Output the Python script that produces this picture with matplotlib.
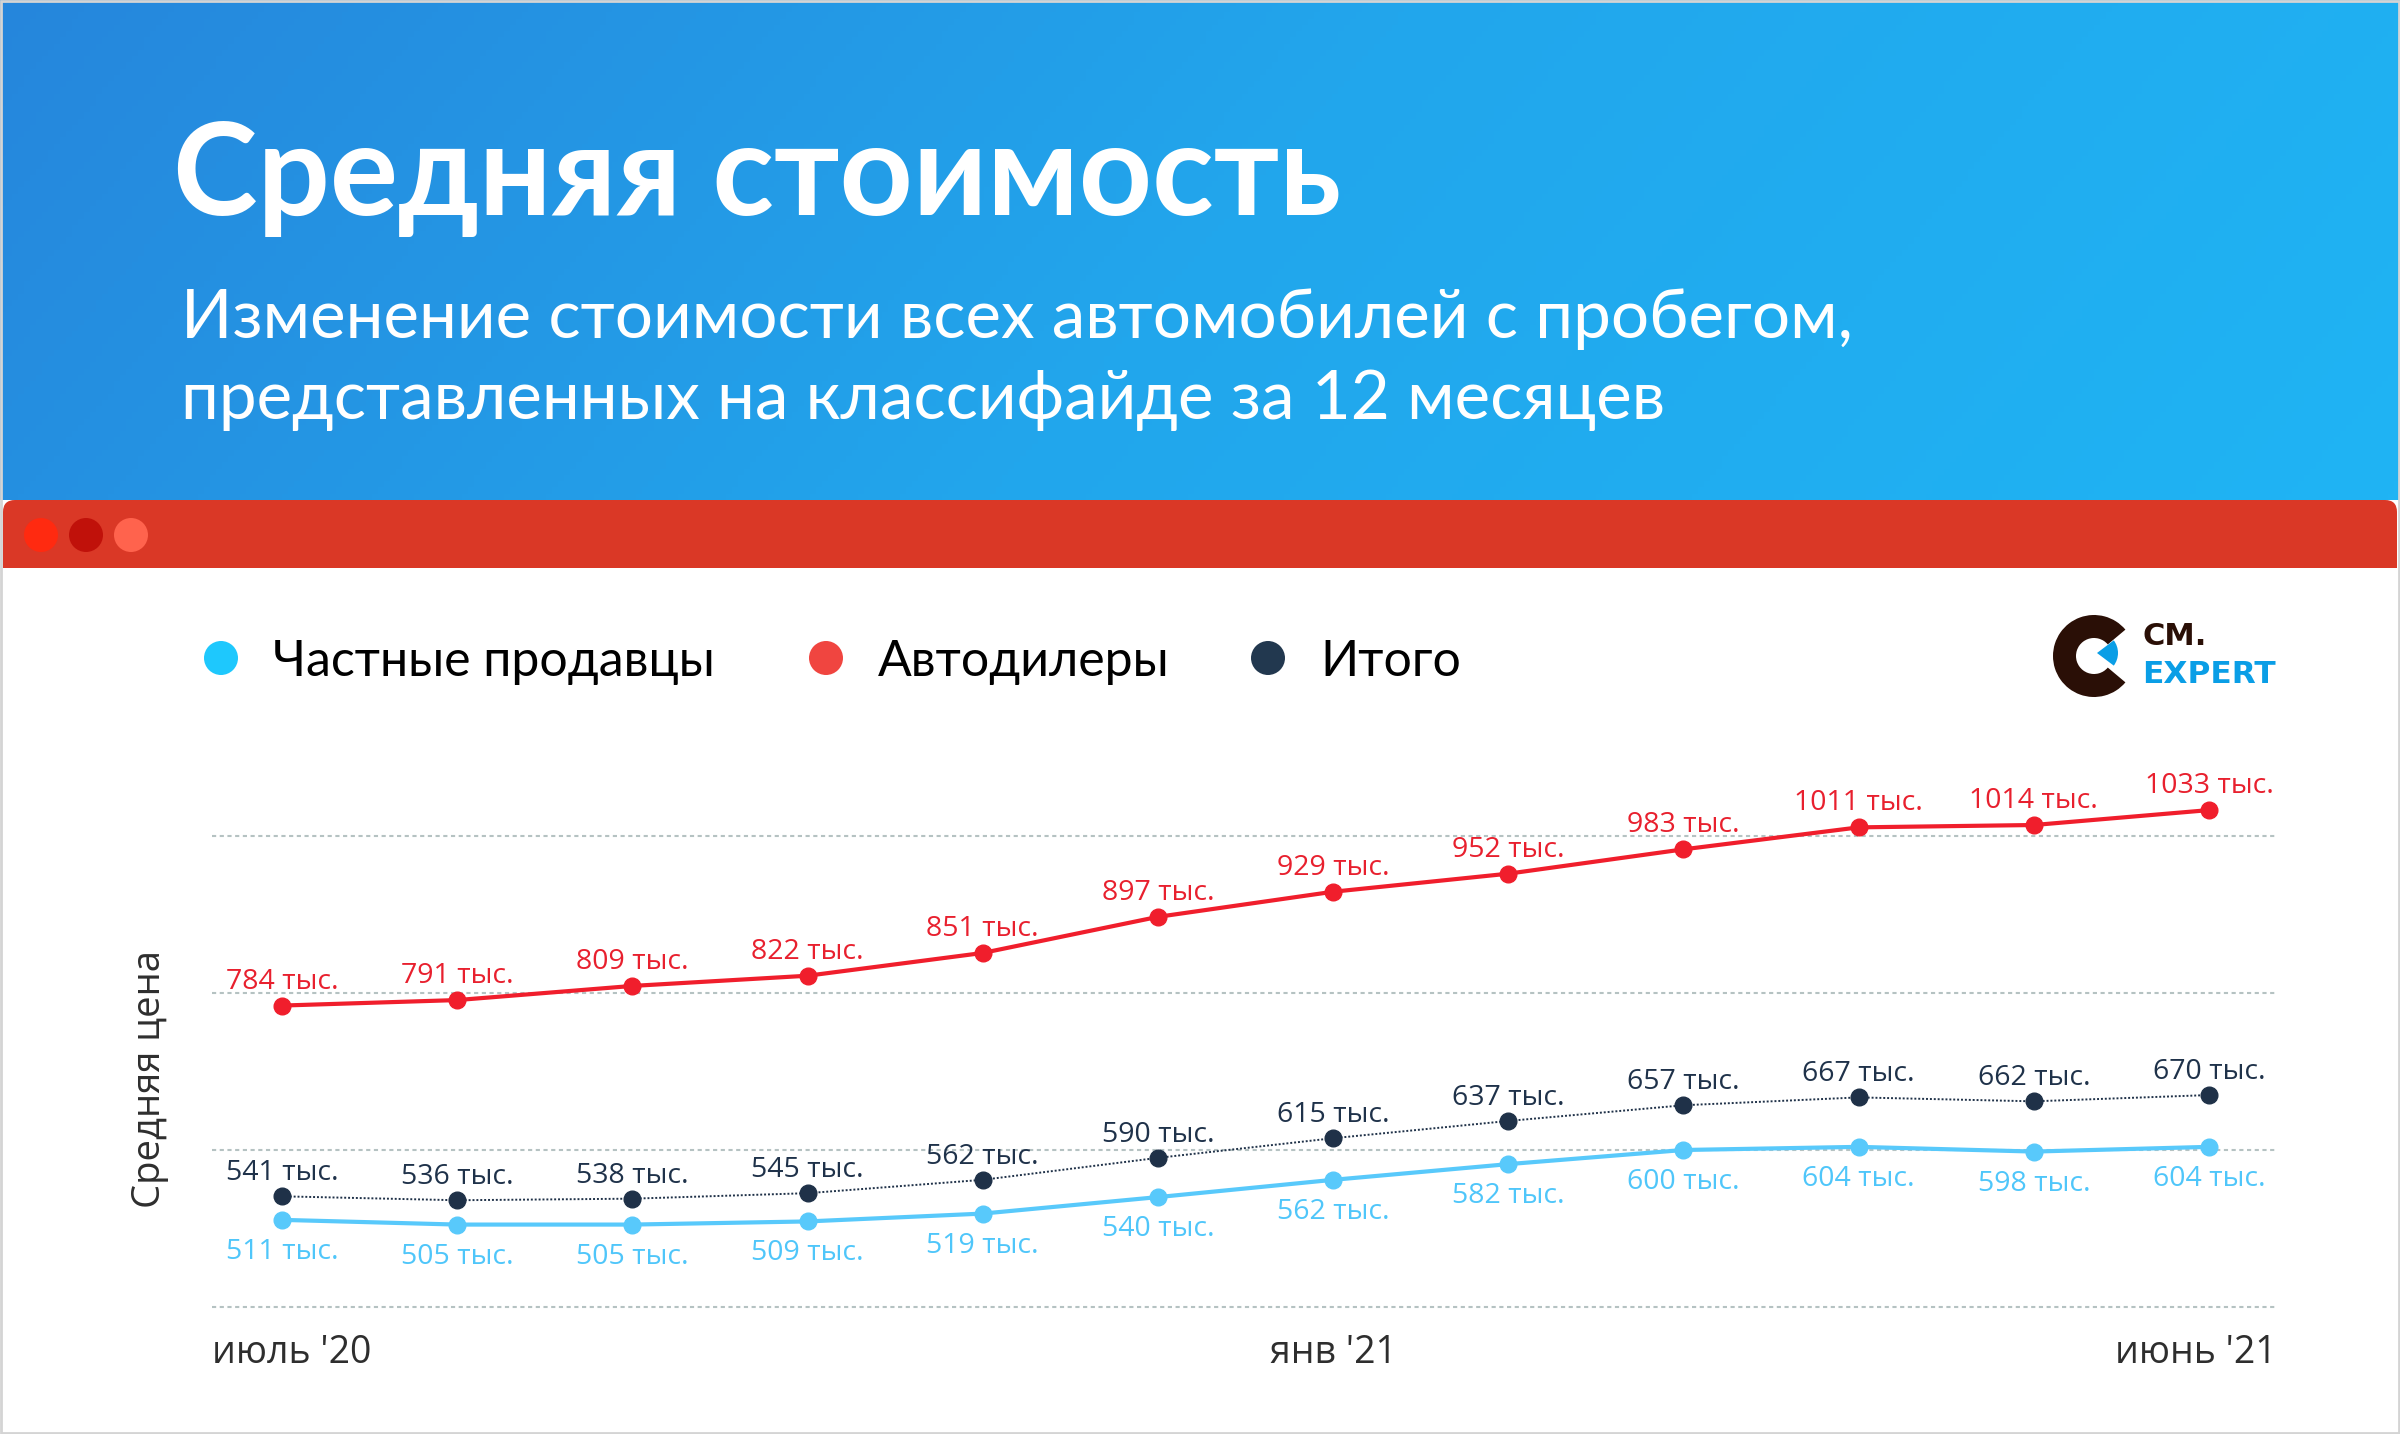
import matplotlib.pyplot as plt
import numpy as np
from matplotlib.patches import Rectangle, FancyBboxPatch, Circle, Wedge
from matplotlib.colors import LinearSegmentedColormap

months = ["июль '20", "авг '20", "сен '20", "окт '20", "ноя '20", "дек '20",
          "янв '21", "фев '21", "мар '21", "апр '21", "май '21", "июнь '21"]
private = [511, 505, 505, 509, 519, 540, 562, 582, 600, 604, 598, 604]
dealers = [784, 791, 809, 822, 851, 897, 929, 952, 983, 1011, 1014, 1033]
total = [541, 536, 538, 545, 562, 590, 615, 637, 657, 667, 662, 670]
series_names = ["Частные продавцы", "Автодилеры", "Итого"]
grid_vals = [400, 600, 800, 1000]
tick_idx = [0, 6, 11]

W, H = 2400, 1434
fig = plt.figure(figsize=(24, 14.34), dpi=100)
fig.patch.set_facecolor("white")

# background layer in pixel coords (y down)
bg = fig.add_axes([0, 0, 1, 1])
bg.set_xlim(0, W)
bg.set_ylim(H, 0)
bg.axis("off")

cmap = LinearSegmentedColormap.from_list("hdr", ["#2686dc", "#22a6ec", "#1fb4f4"])
gx = np.linspace(0, 1, 400)
gy = np.linspace(0, 1, 80)
grad = gx[None, :] * 0.85 + gy[:, None] * 0.15
bg.imshow(grad, cmap=cmap, extent=(0, W, 500, 0), aspect="auto", zorder=0)

bar = FancyBboxPatch((3, 500), W - 6, 120, boxstyle="round,pad=0,rounding_size=12",
                     fc="#da3826", ec="none", zorder=1)
bg.add_patch(bar)
bg.add_patch(Rectangle((0, 568), W, H - 568, fc="white", ec="none", zorder=2))
for cx, col in zip([41, 86, 131], ["#ff2a10", "#c0110a", "#ff634d"]):
    bg.add_patch(Circle((cx, 535), 17, fc=col, ec="none", zorder=3))
bg.add_patch(Rectangle((1, 1), W - 2, H - 2, fc="none", ec="#d4d4d4", lw=2, zorder=10))

# header text
bg.text(173, 215, "Средняя стоимость", color="white", fontsize=92, fontweight="bold",
        family=["Lato", "DejaVu Sans"], va="baseline", ha="left", zorder=5)
bg.text(181, 338, "Изменение стоимости всех автомобилей с пробегом,", color="white",
        fontsize=48.5, family=["Lato", "DejaVu Sans"], va="baseline", ha="left", zorder=5)
bg.text(181, 419, "представленных на классифайде за 12 месяцев", color="white",
        fontsize=48.5, family=["Lato", "DejaVu Sans"], va="baseline", ha="left", zorder=5)

# legend
leg_colors = ["#1ec8fd", "#f04540", "#22384f"]
leg_x = [221, 826, 1268]
for name, col, lx in zip(series_names, leg_colors, leg_x):
    bg.add_patch(Circle((lx, 658), 17, fc=col, ec="none", zorder=5))
    bg.text(lx + 52, 676, name, color="black", fontsize=36, family=["Lato", "DejaVu Sans"],
            va="baseline", ha="left", zorder=5)

# logo
bg.add_patch(Wedge((2094, 656), 41, 40, 320, width=23, fc="#2a0f06", ec="none", zorder=5))
bg.add_patch(Wedge((2097, 653), 21, -37, 37, fc="#0a9ee6", ec="none", zorder=5))
bg.text(2142, 645, "CM.", color="#2a0f06", fontsize=22, fontweight="bold",
        va="baseline", ha="left", zorder=5)
bg.text(2142, 683, "EXPERT", color="#0a9ee6", fontsize=22.5, fontweight="bold",
        va="baseline", ha="left", zorder=5)

# chart axes
x_left, x_right = 212, 2277
p0, p11 = 282, 2209
y400, y1000 = 1307, 836
step = (p11 - p0) / 11
ppu = (y400 - y1000) / 600
pad = 6
ax = fig.add_axes([x_left / W, 1 - (y400 + pad * ppu) / H,
                   (x_right - x_left) / W, (y400 - y1000 + 2 * pad * ppu) / H])
ax.set_xlim(-(p0 - x_left) / step, 11 + (x_right - p11) / step)
ax.set_ylim(400 - pad, 1000 + pad)
ax.patch.set_alpha(0)
for s in ax.spines.values():
    s.set_visible(False)
ax.set_yticks(grid_vals)
ax.set_xticks([])
ax.tick_params(left=False, labelleft=False)
ax.grid(axis="y", color="#b5c2c2", lw=1.5, linestyle=(0, (2.0, 1.7)))

x = np.arange(len(months))
ax.plot(x, private, color="#58c9fb", lw=3, marker="o", ms=12, zorder=3, clip_on=False)
ax.plot(x, dealers, color="#f01e2c", lw=3, marker="o", ms=12, zorder=3, clip_on=False)
ax.plot(x, total, color="#1f3148", lw=1.4, linestyle=(0, (1, 1)), marker="o", ms=12,
        zorder=3, clip_on=False)

lab_font = ["Open Sans", "DejaVu Sans"]
for i in range(len(months)):
    ax.annotate(f"{dealers[i]} тыс.", (x[i], dealers[i]), xytext=(0, 12.2),
                textcoords="offset points", ha="center", va="baseline",
                fontsize=20.5, color="#e8202e", family=lab_font, annotation_clip=False)
    ax.annotate(f"{total[i]} тыс.", (x[i], total[i]), xytext=(0, 11.5),
                textcoords="offset points", ha="center", va="baseline",
                fontsize=20.5, color="#1f324a", family=lab_font, annotation_clip=False)
    ax.annotate(f"{private[i]} тыс.", (x[i], private[i]), xytext=(0, -13),
                textcoords="offset points", ha="center", va="top",
                fontsize=20.5, color="#4fc6fa", family=lab_font, annotation_clip=False)

# x labels: first left-aligned, middle centered, last right-aligned
tick_y = -(1363 - y400) / 1.389
ax.annotate(months[tick_idx[0]], (0, 400), xycoords=("axes fraction", "data"),
            xytext=(0, tick_y), textcoords="offset points", ha="left", va="baseline",
            fontsize=27, color="#2e2e2e", family=lab_font, annotation_clip=False)
ax.annotate(months[tick_idx[1]], (x[tick_idx[1]], 400), xytext=(0, tick_y),
            textcoords="offset points", ha="center", va="baseline",
            fontsize=27, color="#2e2e2e", family=lab_font, annotation_clip=False)
ax.annotate(months[tick_idx[2]], (1, 400), xycoords=("axes fraction", "data"),
            xytext=(0, tick_y), textcoords="offset points", ha="right", va="baseline",
            fontsize=27, color="#2e2e2e", family=lab_font, annotation_clip=False)

fig.text(150 / W, 1 - 1079 / H, "Средняя цена", rotation=90, ha="center", va="center",
         fontsize=27.5, color="#2e2e2e", family=lab_font)

fig.savefig("out.png", dpi=100)
